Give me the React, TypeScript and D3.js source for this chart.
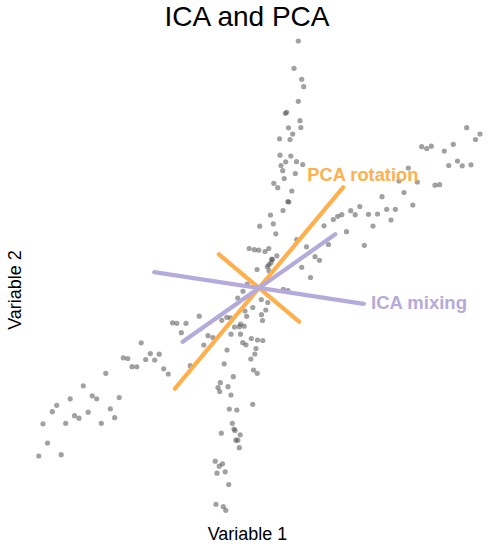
import React from "react";
import * as d3 from "d3";

// Scatter sample (Variable 1, Variable 2)
const var1: number[] = [
  3.93, 3.5, 4.27, 4.47, 3.93, 2.63, 2.77, 4.1, 2.95, 4.18, 3.37, 2.05, 3.1, 2.1, 3.18, 2.67, 3.75, 4.37, 2.2, 2.37,
  3.63, 2.52, 1.48, 1.87, 3.28, 2.88, 2.98, 2.4, 1.15, 1.43, 0.07, 1.68, 3.77, -0.98, -0.47, -0.03, 0.6, 0.98, 1.78, 1.28,
  1.33, 1.2, 1.0, 0.83, -0.2, 1.0, 4.75, 4.27, 5.15, 5.6, 6.05, 6.95, 6.5, 7.43, 7.87, 8.28, 8.75, 9.17, 9.62, 10.08,
  10.53, 10.95, 11.4, 11.85, 12.3, 12.77, 13.2, 13.63, 14.5, 15.38, 14.93, 15.83, 14.0, 17.6, 18.06, 16.27, 16.77, 17.23, 18.53, 19.43,
  18.98, 19.85, 20.32, 21.2, 20.77, 22.1, 21.65,
  -1.18, -1.6, -2.13, 0.23, 0.88, -0.62, 0.68, -1.4, 0.25, -1.23, 0.35, -3.22, -2.85, -3.72, -5.98, 2.43, 2.9, -1.85, -2.45, -1.97,
  -1.48, -2.8, -1.85, -5.1, -4.6, -0.77, -0.15, 0.38, -1.63, -1.3, -5.52, -0.3, -0.42, -0.82, -3.2, -8.65, -8.22, -7.3, -7.77, -11.78,
  -10.87, -9.98, -13.57, -13.12, -11.33, -10.43, -12.7, -12.22, -9.53, -9.07, -6.88, -3.48, -0.55, -0.18, -15.32, -2.57, -3.87, -4.1, -3.1, -3.93,
  -2.8, -17.57, -18.88, -16.68, -16.23, -13.98, -20.23, -20.67, -18.45, -18.0, -17.08, -14.87, -14.43, -21.6, -19.33, -15.77, -21.15, -22.02, -19.78,
  -0.63, -2.97, -2.22, -2.67, -2.5, -2.4, -3.77, -1.88, -2.32, -2.12, -1.97, -4.38, -3.65, -3.98, -4.2, -3.38, -3.03, -4.3, -3.57, -3.32,
];
const var2: number[] = [
  24.7, 21.97, 20.87, 20.13, 18.67, 17.47, 17.57, 16.73, 16.02, 16.05, 15.4, 14.92, 14.85, 13.28, 13.2, 12.62, 12.63, 12.35, 12.25, 11.73,
  11.45, 10.95, 10.47, 10.03, 9.7, 8.65, 8.6, 7.75, 7.3, 6.42, 6.18, 5.42, 4.85, 3.95, 3.83, 3.78, 3.65, 3.95, 3.22, 2.89,
  2.84, 2.53, 2.33, 2.13, 1.85, 1.73, 4.12, 2.07, 1.05, 3.13, 2.77, 4.35, 6.22, 6.85, 7.17, 7.33, 5.63, 7.73, 7.33, 8.15,
  4.27, 7.37, 6.2, 7.4, 9.13, 7.87, 6.8, 7.87, 9.55, 8.3, 12.0, 10.6, 10.7, 10.28, 10.33, 14.13, 13.95, 14.18, 13.7, 14.37,
  12.25, 12.7, 12.22, 12.32, 16.03, 15.4, 14.85,
  0.38, -0.33, -1.0, -1.15, -1.45, -1.95, -2.2, -2.3, -2.67, -2.83, -3.25, -2.93, -2.98, -3.23, -2.82, -0.13, -0.25, -3.6, -3.9, -3.87,
  -3.82, -4.62, -4.62, -4.77, -4.95, -5.05, -5.2, -5.25, -5.47, -5.68, -5.7, -6.05, -6.6, -7.1, -6.2, -3.48, -3.53, -3.53, -4.47, -5.48,
  -6.56, -6.62, -6.98, -7.05, -7.15, -7.2, -7.87, -7.88, -8.08, -8.6, -7.77, -7.58, -8.2, -8.53, -8.53, -8.87, -9.47, -9.95, -9.87, -10.35,
  -10.7, -9.78, -11.08, -10.78, -11.08, -10.95, -11.73, -12.37, -12.77, -13.02, -12.42, -12.08, -12.97, -13.58, -13.53, -13.53, -15.5, -16.8, -16.67,
  -11.63, -12.1, -12.2, -13.53, -14.1, -14.25, -14.52, -14.68, -15.22, -15.22, -15.97, -17.32, -17.58, -17.82, -18.52, -18.38, -19.65, -21.63, -21.87, -22.23,
];

// Component directions (half-axis vectors from the mean)
const pcaAxes: [number, number][] = [
  [8.41, 10.07],
  [4.01, -3.37],
];
const icaAxes: [number, number][] = [
  [10.48, -1.58],
  [7.63, 5.37],
];
const center: [number, number] = [0, 0];

const titleText = "ICA and PCA";
const xLabel = "Variable 1";
const yLabel = "Variable 2";
const pcaLabel = "PCA rotation";
const icaLabel = "ICA mixing";
const pcaLabelPos: [number, number] = [4.83, 10.73];
const icaLabelPos: [number, number] = [11.2, -2.1];

const W = 489;
const H = 550;
const ORANGE = "#ffb04c";
const PURPLE = "#b4aadb";
const FONT = "'Liberation Sans', Arial, Helvetica, sans-serif";

export default function App() {
  const x = d3.scaleLinear().domain([-25, 22]).range([9, 479]);
  const y = d3.scaleLinear().domain([-23, 25]).range([518, 38]);

  const axisLine = (v: [number, number], color: string, key: string) => (
    <line
      key={key}
      x1={x(center[0] - v[0])}
      y1={y(center[1] - v[1])}
      x2={x(center[0] + v[0])}
      y2={y(center[1] + v[1])}
      stroke={color}
      strokeWidth={4.2}
      strokeLinecap="round"
    />
  );

  return (
    <svg
      width={W}
      height={H}
      style={{ position: "absolute", left: 0, top: 0, background: "#fff" }}
      fontFamily={FONT}
    >
      <rect width={W} height={H} fill="#fff" />
      <text x={247} y={26} textAnchor="middle" fontSize={28} fill="#000">
        {titleText}
      </text>
      <g>
        {var1.map((v, i) => (
          <circle key={i} cx={x(v)} cy={y(var2[i])} r={2.6} fill="#444" fillOpacity={0.5} />
        ))}
      </g>
      {pcaAxes.map((v, i) => axisLine(v, ORANGE, "p" + i))}
      {icaAxes.map((v, i) => axisLine(v, PURPLE, "i" + i))}
      <text x={x(pcaLabelPos[0])} y={y(pcaLabelPos[1])} fontSize={18.3} fontWeight="bold" fill={ORANGE}>
        {pcaLabel}
      </text>
      <text x={x(icaLabelPos[0])} y={y(icaLabelPos[1])} fontSize={18.5} fontWeight="bold" fill={PURPLE}>
        {icaLabel}
      </text>
      <text x={247.5} y={540} textAnchor="middle" fontSize={18} fill="#000">
        {xLabel}
      </text>
      <text
        transform={`translate(20.5,290) rotate(-90)`}
        textAnchor="middle"
        fontSize={18}
        fill="#000"
      >
        {yLabel}
      </text>
    </svg>
  );
}
